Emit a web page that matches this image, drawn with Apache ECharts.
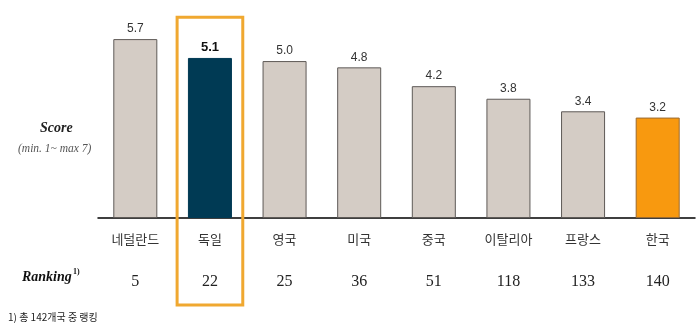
<!DOCTYPE html>
<html><head><meta charset="utf-8">
<script src="https://cdn.jsdelivr.net/npm/echarts@6/dist/echarts.min.js"></script>
<style>html,body{margin:0;padding:0;background:#fff}#c{width:700px;height:328px}</style>
</head><body><div id="c"></div>
<script>
const countries = ['네덜란드','독일','영국','미국','중국','이탈리아','프랑스','한국'];
const scores = [5.7, 5.1, 5.0, 4.8, 4.2, 3.8, 3.4, 3.2];
const rankings = ['5','22','25','36','51','118','133','140'];
const highlightIndex = 1;
const koreaIndex = 7;

const chart = echarts.init(document.getElementById('c'));
const barData = scores.map((v, i) => {
  let color = '#d4ccc5', border = '#5e5a57';
  if (i === highlightIndex) { color = '#003a54'; border = '#003a54'; }
  if (i === koreaIndex) { color = '#f8990f'; border = '#9a6a30'; }
  return {
    value: v,
    itemStyle: { color: color, borderColor: border, borderWidth: 1 },
    label: i === highlightIndex ? { fontWeight: 'bold', color: '#111', fontSize: 13 } : {}
  };
});
const texts = [
  { type: 'text', left: 40, top: 121, style: { text: 'Score', font: 'italic bold 14px "Liberation Serif"', fill: '#222' } },
  { type: 'text', left: 18, top: 143, style: { text: '(min. 1~ max 7)', font: 'italic 11.5px "Liberation Serif"', fill: '#555' } },
  { type: 'text', left: 22, top: 270, style: { text: 'Ranking', font: 'italic bold 14px "Liberation Serif"', fill: '#111' } },
  { type: 'text', left: 73, top: 268, style: { text: '1)', font: 'bold 8px "Liberation Serif"', fill: '#111' } },
  { type: 'text', left: 8, top: 312, style: { text: '1) 총 142개국 중 랭킹', font: '10px "Noto Sans CJK KR"', fill: '#222' } }
];
chart.setOption({
  animation: false,
  grid: { left: 98, right: 5, top: 14, bottom: 110 },
  xAxis: [{
    type: 'category', data: countries,
    axisLine: { lineStyle: { color: '#000', width: 1.5 } },
    axisTick: { show: false },
    axisLabel: { margin: 15, fontSize: 13, color: '#333', fontFamily: 'Noto Sans CJK KR' }
  }, {
    type: 'category', data: rankings, position: 'bottom', offset: 48,
    axisLine: { show: false }, axisTick: { show: false },
    axisLabel: { fontSize: 16, color: '#222', fontFamily: 'Liberation Serif' }
  }],
  yAxis: { type: 'value', min: 0, max: 6.5, show: false, splitLine: { show: false } },
  series: [{
    type: 'bar', data: barData, barWidth: '59%',
    label: { show: true, position: 'top', distance: 4, fontSize: 12, color: '#333', fontFamily: 'Liberation Sans', formatter: p => p.value.toFixed(1) }
  }],
  graphic: texts
});
// highlight box around the highlighted category, positioned through the axis scale
const cx = chart.convertToPixel({ xAxisIndex: 0 }, countries[highlightIndex]);
const band = chart.convertToPixel({ xAxisIndex: 0 }, countries[highlightIndex + 1]) - cx;
const topY = chart.convertToPixel({ yAxisIndex: 0 }, 6.4);
const baseY = chart.convertToPixel({ yAxisIndex: 0 }, 0);
const w = band * 0.88;
chart.setOption({
  graphic: texts.concat([
    { type: 'rect', shape: { x: cx - w / 2, y: topY, width: w, height: baseY + 87 - topY },
      style: { fill: 'none', stroke: '#f0a830', lineWidth: 3 }, z: 10 }
  ])
});
</script></body></html>
